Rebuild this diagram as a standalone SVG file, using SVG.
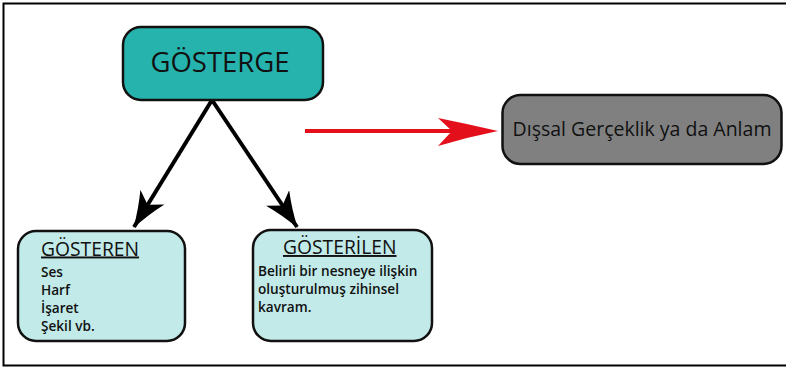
<svg xmlns="http://www.w3.org/2000/svg" width="786" height="367" viewBox="0 0 786 367">
<defs>
<style>
.box{stroke:#111;stroke-width:2.5}
.t{font-family:"Open Sans","Noto Sans",sans-serif;fill:#111}
.b{font-weight:600;font-size:13.6px}
.h{font-size:19.3px;text-decoration:underline}
</style>
<marker id="bk" viewBox="0 0 36 28" refX="35" refY="14" markerWidth="36" markerHeight="28" markerUnits="userSpaceOnUse" orient="auto">
<path d="M36,14 Q16,8 0,0 L9,14 L0,28 Q16,20 36,14 Z" fill="#000"/>
</marker>
</defs>
<rect width="786" height="367" fill="#fff"/>
<path d="M786,3.5 H3.5 V365.5 H786" fill="none" stroke="#000" stroke-width="2"/>
<g id="connectors">
<line x1="212" y1="100" x2="134" y2="227" stroke="#000" stroke-width="4" marker-end="url(#bk)"/>
<line x1="212" y1="100" x2="297" y2="227" stroke="#000" stroke-width="4" marker-end="url(#bk)"/>
<line x1="305" y1="131" x2="455" y2="131" stroke="#e3101c" stroke-width="4"/>
<path d="M498,131 Q468,124 438,118 L452,131 L438,146 Q468,137 498,131 Z" fill="#e3101c"/>
</g>
<g id="gosterge">
<rect class="box" x="123" y="27" width="200" height="73" rx="18" fill="#26b3ae"/>
<text class="t" x="220" y="72" font-size="27.5" text-anchor="middle">GÖSTERGE</text>
</g>
<g id="anlam">
<rect class="box" x="502.5" y="95" width="279" height="69" rx="18" fill="#808080"/>
<text class="t" x="642" y="136" font-size="19.5" text-anchor="middle">Dışsal Gerçeklik ya da Anlam</text>
</g>
<g id="gosteren">
<rect class="box" x="18" y="231" width="167" height="110" rx="18" fill="#c2eae8"/>
<text class="t h" x="41" y="255.5">GÖSTEREN</text>
<text class="t b" x="41" y="277">Ses</text>
<text class="t b" x="41" y="295">Harf</text>
<text class="t b" x="41" y="313">İşaret</text>
<text class="t b" x="41" y="331">Şekil vb.</text>
</g>
<g id="gosterilen">
<rect class="box" x="253" y="230" width="179" height="111" rx="18" fill="#c2eae8"/>
<text class="t h" x="283" y="254">GÖSTERİLEN</text>
<text class="t b" x="258" y="275.5">Belirli bir nesneye ilişkin</text>
<text class="t b" x="258" y="293.5">oluşturulmuş zihinsel</text>
<text class="t b" x="258" y="311.5">kavram.</text>
</g>
</svg>
